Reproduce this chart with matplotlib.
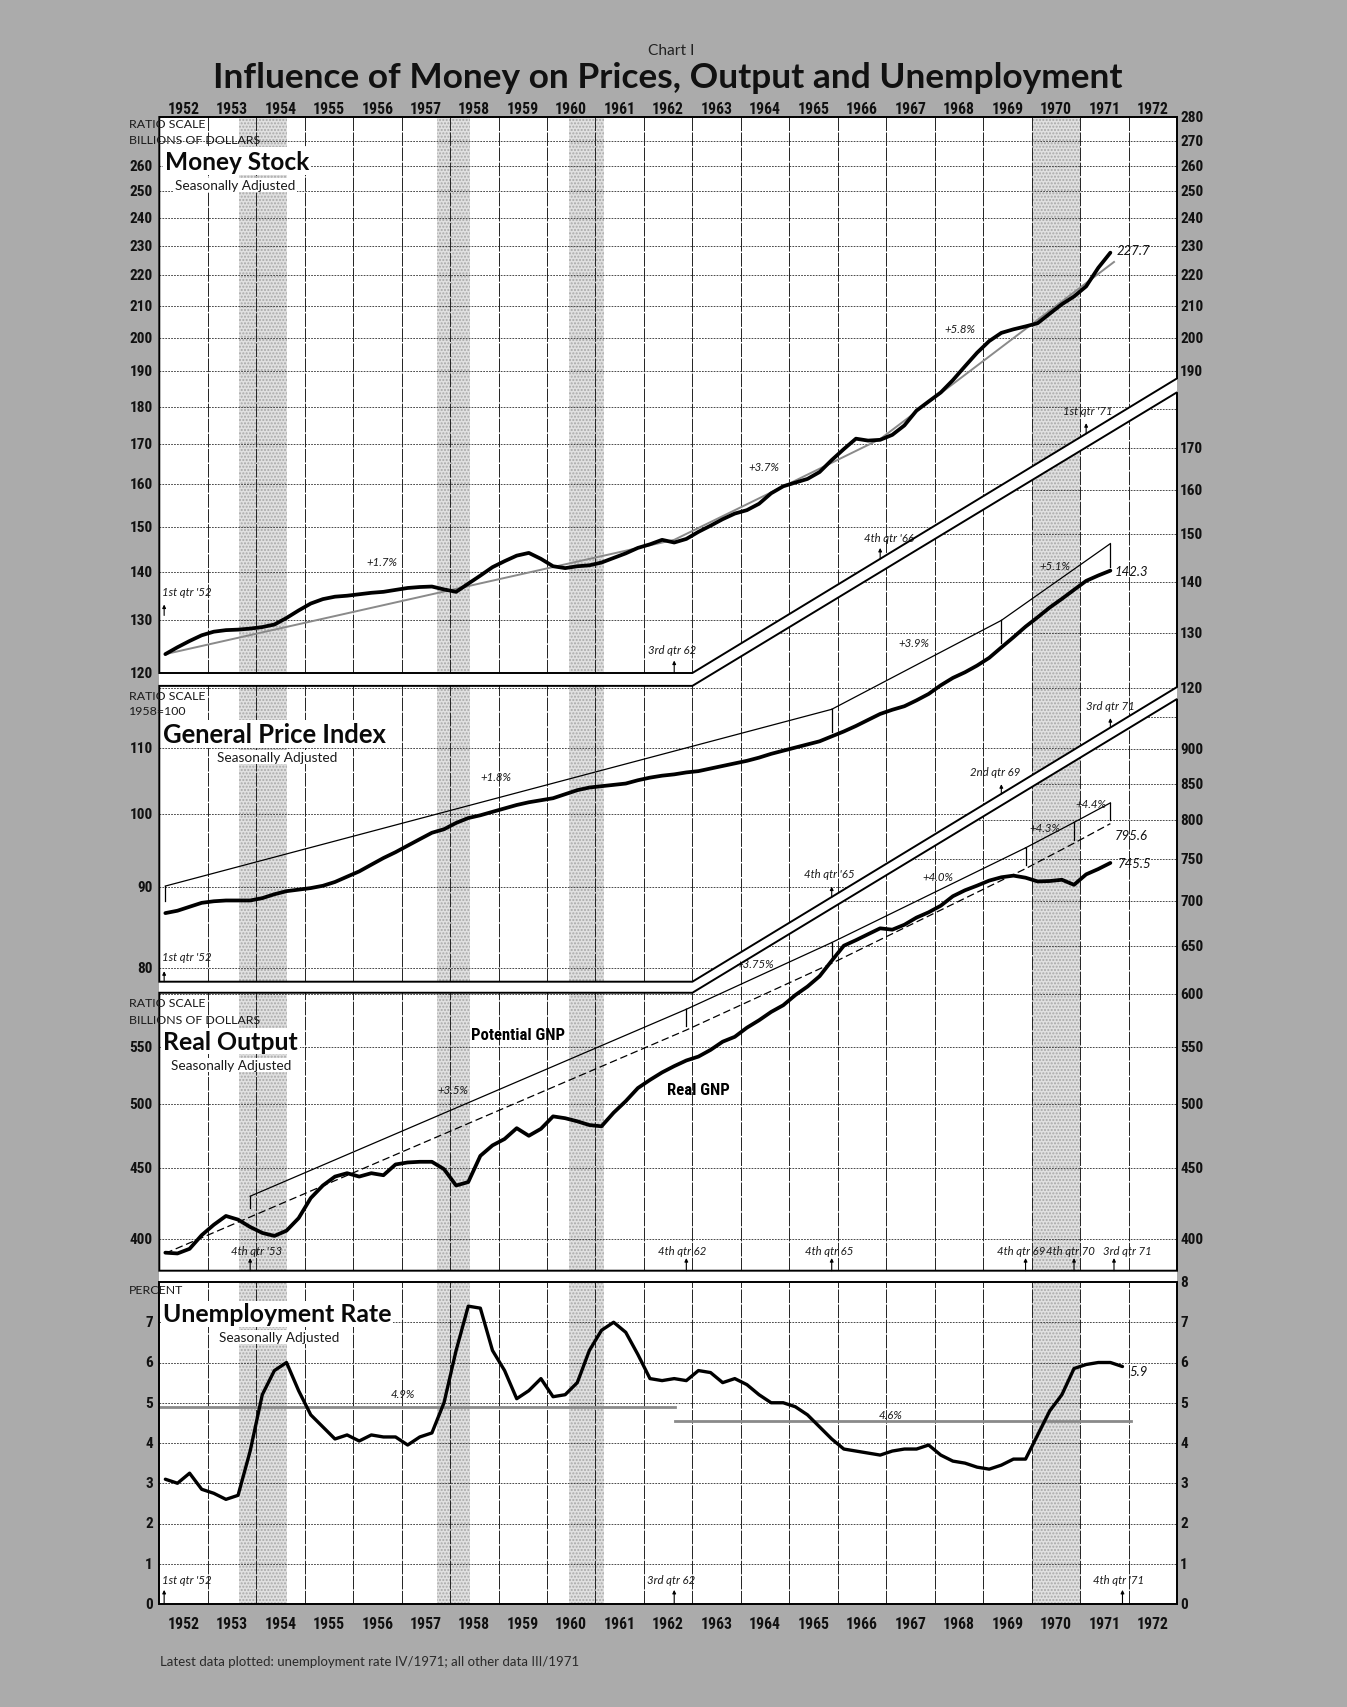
import os

import matplotlib
matplotlib.use('Agg')
import matplotlib.pyplot as plt
import numpy as np
from matplotlib import font_manager as fm
from matplotlib.font_manager import FontProperties
from matplotlib.patches import Polygon, Rectangle
from matplotlib.textpath import TextPath

DPI = 100
W, H = 1347, 1708
BG = '#ababab'

# ---------------- data ----------------
# quarterly observations plotted at mid quarter, 1952 Q1 onwards
quarters = np.arange(1952.125, 1972.0, 0.25)
years = list(range(1952, 1973))

money_stock = [
    123.5, 124.8, 126.0, 127.1, 127.8, 128.1, 128.2, 128.4,
    128.7, 129.2, 130.5, 132.0, 133.4, 134.3, 134.8, 135.0,
    135.3, 135.6, 135.8, 136.2, 136.6, 136.8, 136.9, 136.3,
    135.8, 137.5, 139.2, 141.0, 142.3, 143.5, 144.1, 142.8,
    141.2, 140.8, 141.2, 141.4, 142.0, 143.0, 144.0, 145.2,
    146.0, 147.0, 146.4, 147.2, 148.8, 150.2, 151.7, 153.0,
    153.8, 155.3, 157.8, 159.5, 160.4, 161.3, 163.0, 166.0,
    168.8, 171.5, 171.0, 171.2, 172.5, 175.0, 179.0, 181.5,
    184.0, 187.5, 191.5, 195.5, 199.0, 201.5, 202.6, 203.5,
    204.5, 207.5, 210.5, 213.0, 216.3, 222.5, 227.7]

price_index = [
    86.6, 86.9, 87.4, 87.9, 88.1, 88.2, 88.2, 88.2,
    88.5, 89.0, 89.4, 89.6, 89.8, 90.1, 90.6, 91.3,
    92.0, 92.9, 93.8, 94.6, 95.5, 96.4, 97.3, 97.8,
    98.7, 99.4, 99.8, 100.3, 100.8, 101.3, 101.7, 102.0,
    102.3, 102.9, 103.5, 103.9, 104.1, 104.3, 104.5, 105.0,
    105.4, 105.7, 105.9, 106.2, 106.4, 106.8, 107.2, 107.6,
    108.0, 108.5, 109.1, 109.6, 110.1, 110.6, 111.1, 111.9,
    112.7, 113.6, 114.6, 115.6, 116.3, 116.9, 117.9, 119.0,
    120.5, 121.8, 122.8, 124.0, 125.4, 127.3, 129.2, 131.2,
    133.0, 134.9, 136.6, 138.4, 140.2, 141.3, 142.3]

real_gnp = [
    391.0, 390.5, 393.5, 402.5, 409.5, 415.5, 413.0, 408.0,
    404.0, 402.0, 405.5, 414.0, 428.0, 437.0, 443.5, 446.0,
    443.5, 446.0, 444.5, 452.5, 454.0, 454.5, 454.5, 449.0,
    437.0, 439.5, 459.0, 467.0, 472.0, 480.5, 474.5, 480.0,
    490.0, 488.5, 486.0, 483.0, 482.0, 493.0, 502.5, 513.5,
    520.5, 527.0, 532.5, 537.5, 541.0, 547.0, 554.5, 559.0,
    567.5, 574.5, 582.5, 589.0, 599.0, 607.5, 618.0, 634.0,
    650.0, 656.0, 662.5, 669.0, 667.5, 673.0, 681.0, 687.0,
    694.5, 705.5, 712.5, 718.0, 724.0, 728.0, 730.0, 727.5,
    723.0, 723.5, 725.0, 719.0, 731.5, 738.0, 745.5]

unemployment = [
    3.1, 3.0, 3.25, 2.85, 2.75, 2.6, 2.7, 3.8,
    5.2, 5.8, 6.0, 5.3, 4.7, 4.4, 4.1, 4.2,
    4.05, 4.2, 4.15, 4.15, 3.95, 4.15, 4.25, 5.0,
    6.3, 7.4, 7.35, 6.3, 5.8, 5.1, 5.3, 5.6,
    5.15, 5.2, 5.5, 6.3, 6.8, 7.0, 6.75, 6.2,
    5.6, 5.55, 5.6, 5.55, 5.8, 5.75, 5.5, 5.6,
    5.45, 5.2, 5.0, 5.0, 4.9, 4.7, 4.4, 4.1,
    3.85, 3.8, 3.75, 3.7, 3.8, 3.85, 3.85, 3.95,
    3.7, 3.55, 3.5, 3.4, 3.35, 3.45, 3.6, 3.6,
    4.2, 4.8, 5.2, 5.85, 5.95, 6.0, 6.0, 5.9]

# trend lines
money_trend_years = [1952.125, 1962.625, 1966.875, 1971.7]
money_trend = [123.5, 147.0, 171.4, 224.5]
money_growth = [('+1.7%', 1956.6, 142.3), ('+3.7%', 1964.47, 164.5), ('+5.8%', 1968.52, 203.0)]

price_trend_years = [1952.125, 1965.875, 1969.375, 1971.625]
price_trend = [86.6, 111.9, 127.3, 142.3]
price_growth = [('+1.8%', 1958.95, 105.5), ('+3.9%', 1967.57, 128.2), ('+5.1%', 1970.48, 143.3)]

potential_years = [1952.125, 1953.875, 1962.875, 1965.875, 1969.875, 1970.875, 1971.625]
potential_gnp = [390.6, 414.8, 565.3, 631.3, 738.5, 770.3, 795.6]
output_growth = [('+3.5%', 1958.05, 512.2), ('+3.75%', 1964.29, 631.6), ('+4.0%', 1968.07, 728.6),
                 ('+4.3%', 1970.28, 790.3), ('+4.4%', 1971.22, 822.0)]

unemp_avg_spans = [(1952.0, 1962.65), (1962.65, 1972.05)]
unemp_avg = [4.9, 4.55]
unemp_avg_labels = [('4.9%', 1957.03, 5.24), ('4.6%', 1967.09, 4.72)]

recessions = [(1953.65, 1954.63), (1957.72, 1958.41), (1960.45, 1961.18), (1970.0, 1971.0)]

# panel outlines (the broken double-line frame)
bound_years = [1952, 1963, 1973]
money_floor, money_ceil = [120, 120, 188.0], [280, 280, 280]
price_floor, price_ceil = [78.4, 78.4, 120.2], [120.4, 120.4, 184.3]
output_floor, output_ceil = [379.5, 379.5, 379.5], [601.3, 601.3, 978.0]
unemp_floor, unemp_ceil = [0, 0, 0], [8, 8, 8]

# quarter markers: (text, x, y, ha) and arrows (x, base, tip)
money_notes = [("1st qtr '52", 1952.05, 135.8, 'left'), ('3rd qtr 62', 1962.58, 124.3, 'center'),
               ("4th qtr '66", 1967.06, 147.6, 'center'), ("1st qtr '71", 1971.15, 178.9, 'center')]
money_arrows = [(1952.1, 131.0, 133.2), (1962.625, 120.0, 122.3), (1966.875, 142.8, 145.2),
                (1971.125, 172.8, 175.6)]
price_notes = [("1st qtr '52", 1952.06, 81.3, 'left'), ("4th qtr '65", 1965.82, 91.7, 'center'),
               ('2nd qtr 69', 1969.25, 106.4, 'center'), ('3rd qtr 71', 1971.62, 117.0, 'center')]
price_arrows = [(1952.1, 78.4, 79.6), (1965.875, 88.6, 90.0), (1969.375, 102.9, 104.4),
                (1971.625, 113.4, 114.9)]
output_notes = [("4th qtr '53", 1954.0, 392.1, 'center'), ('4th qtr 62', 1962.79, 392.1, 'center'),
                ('4th qtr 65', 1965.82, 392.1, 'center'), ('4th qtr 69', 1969.78, 392.1, 'center'),
                ('4th qtr 70', 1970.81, 392.1, 'center'), ('3rd qtr 71', 1971.97, 392.1, 'center')]
output_arrows = [(x, 379.5, 387.5) for x in [1953.875, 1962.875, 1965.875, 1969.875, 1970.875, 1971.7]]
unemp_notes = [("1st qtr '52", 1952.06, 0.6, 'left'), ('3rd qtr 62', 1962.56, 0.6, 'center'),
               ("4th qtr '71", 1971.79, 0.6, 'center')]
unemp_arrows = [(1952.1, 0.0, 0.35), (1962.625, 0.0, 0.35), (1971.875, 0.0, 0.35)]

end_labels = {'money': ('227.7', 1971.75, 228.5), 'price': ('142.3', 1971.72, 142.3),
              'potential': ('795.6', 1971.72, 781.0), 'real': ('745.5', 1971.78, 745.5),
              'unemp': ('5.9', 1972.02, 5.8)}

money_left, money_right = list(range(120, 261, 10)), list(range(190, 281, 10))
price_left, price_right = [80, 90, 100, 110], list(range(120, 171, 10))
output_left, output_right = [400, 450, 500, 550], list(range(400, 901, 50))
unemp_left, unemp_right = list(range(0, 8)), list(range(0, 9))


# ---------------- fonts ----------------
def narrow_bold():
    prefs = [('noto', 'extracondensed'), ('roboto', 'condensed'), ('noto', 'condensed'),
             ('liberation', 'narrow'), ('dejavu', 'condensed'), ('open', 'condensed')]
    cands = []
    for f in fm.fontManager.ttflist:
        key = (f.name + ' ' + os.path.basename(f.fname)).lower().replace(' ', '')
        if 'italic' in key or 'oblique' in key:
            continue
        wt = f.weight if isinstance(f.weight, int) else fm.weight_dict.get(f.weight, 400)
        if wt < 600 or wt > 800:
            continue
        if 'condensed' in key or 'narrow' in key:
            cands.append((key, f.fname))
    for a, b in prefs:
        for key, fname in cands:
            if a in key and b in key:
                return FontProperties(fname=fname)
    if cands:
        return FontProperties(fname=cands[0][1])
    return FontProperties(family='DejaVu Sans', weight='bold')


NUM = narrow_bold()
TITLE = FontProperties(family='Lato', weight='bold')
PLAIN = FontProperties(family='Lato')
ITAL = FontProperties(family='Lato', style='italic')


def fit_size(text, prop, width_px):
    w = TextPath((0, 0), text, size=10, prop=prop).get_extents().width
    return 10 * width_px / w * 72 / DPI


def sized(prop, size):
    p = prop.copy()
    p.set_size(size)
    return p


num_fp = sized(NUM, fit_size('260', NUM, 22))
year_fp = sized(NUM, fit_size('1952', NUM, 30))
note_fp = sized(ITAL, fit_size("1st qtr '52", ITAL, 48))
end_fp = sized(ITAL, fit_size('227.7', ITAL, 33))
small_fp = sized(PLAIN, fit_size('RATIO SCALE', PLAIN, 75))
sub_fp = sized(PLAIN, fit_size('Seasonally Adjusted', PLAIN, 118))

# ---------------- figure ----------------
X0, X1 = 159.3, 1177.0
fig = plt.figure(figsize=(W / DPI, H / DPI), dpi=DPI, facecolor=BG)
fig.patches.append(Rectangle((X0 / W, 1 - 1605 / H), (X1 - X0) / W, (1605 - 118) / H,
                             transform=fig.transFigure, facecolor='white',
                             edgecolor='none', zorder=-1))


def ftext(x, y, s, **kw):
    return fig.text(x / W, 1 - y / H, s, **kw)


def panel(top, bottom, ylim, log, floor, ceil, hgrid):
    ax = fig.add_axes([X0 / W, 1 - bottom / H, (X1 - X0) / W, (bottom - top) / H])
    ax.set_facecolor('none')
    ax.axis('off')
    if log:
        ax.set_yscale('log')
    verts = list(zip(bound_years, floor)) + list(zip(bound_years[::-1], ceil[::-1]))
    region = Polygon(verts, closed=True, facecolor='none', edgecolor='black', lw=1.4, zorder=5)
    ax.add_patch(region)
    region.set_clip_on(False)
    ax.set_xlim(1952, 1973)
    ax.set_ylim(*ylim)
    for a, b in recessions:
        span = ax.axvspan(a, b, facecolor='#e0e0e0', edgecolor='#a8a8a8', hatch='.....',
                          lw=0, zorder=0.5)
        span.set_clip_path(region)
    hl = ax.hlines(hgrid, 1952, 1973, colors='#4a4a4a', lw=0.7, linestyles=(0, (1.8, 1.2)), zorder=1)
    hl.set_clip_path(region)
    vl = ax.vlines(years[1:], ylim[0], ylim[1], colors='#222222', lw=0.7,
                   linestyles=(0, (14, 1.5)), zorder=1)
    vl.set_clip_path(region)
    return ax


def tick_labels(ax, left, right, fmt='{:d}'):
    tr = ax.get_yaxis_transform()
    for v in left:
        ax.text(-0.0062, v, fmt.format(v), transform=tr, ha='right', va='center',
                fontproperties=num_fp, color='#111111')
    for v in right:
        ax.text(1.003, v, fmt.format(v), transform=tr, ha='left', va='center',
                fontproperties=num_fp, color='#111111')


def notes(ax, items, arrows):
    for s, x, y, ha in items:
        ax.text(x, y, s, ha=ha, va='center', fontproperties=note_fp, color='#1a1a1a', zorder=4)
    for x, base, tip in arrows:
        ax.annotate('', xy=(x, tip), xytext=(x, base),
                    arrowprops=dict(arrowstyle='-|>', color='black', lw=0.8,
                                    mutation_scale=5, shrinkA=0, shrinkB=0), zorder=4)


def bracket(ax, xs, vs, lift):
    ax.plot([xs[0], xs[0]], [vs[0] * lift, vs[0] * (1 + (lift - 1) * 0.45)], color='black', lw=0.9, zorder=2)
    for i in range(len(xs) - 1):
        ax.plot([xs[i], xs[i + 1]], [vs[i] * lift, vs[i + 1] * lift], color='black', lw=0.9, zorder=2)
        ax.plot([xs[i + 1], xs[i + 1]], [vs[i + 1] * lift, vs[i + 1] * 1.006], color='black', lw=0.9, zorder=2)


def growth(ax, items):
    for s, x, y in items:
        ax.text(x, y, s, ha='center', va='center', fontproperties=note_fp, color='#1a1a1a', zorder=4)


def end_label(ax, key):
    s, x, y = end_labels[key]
    ax.text(x, y, s, ha='left', va='center', fontproperties=end_fp, color='#111111', zorder=4)


thick = dict(color='black', lw=2.7, solid_joinstyle='round', solid_capstyle='round', zorder=3)

# --- money stock ---
ax_m = panel(118, 674, (120, 280), True, money_floor, money_ceil, list(range(120, 281, 10)))
ax_m.plot(money_trend_years, money_trend, color='#8a8a8a', lw=1.4, zorder=2)
ax_m.plot(quarters[:len(money_stock)], money_stock, **thick)
tick_labels(ax_m, money_left, money_right)
growth(ax_m, money_growth)
notes(ax_m, money_notes, money_arrows)
end_label(ax_m, 'money')

# --- general price index ---
ax_p = panel(393.3, 982.7, (78.4, 184.3), True, price_floor, price_ceil, list(range(80, 181, 10)))
bracket(ax_p, price_trend_years, price_trend, 1.04)
ax_p.plot(quarters[:len(price_index)], price_index, **thick)
tick_labels(ax_p, price_left, price_right)
growth(ax_p, price_growth)
notes(ax_p, price_notes, price_arrows)
end_label(ax_p, 'price')

# --- real output ---
ax_o = panel(700, 1271.7, (379.5, 978.0), True, output_floor, output_ceil, list(range(400, 951, 50)))
ax_o.plot(potential_years, potential_gnp, color='black', lw=0.9, dashes=(6, 3), zorder=2)
bracket(ax_o, potential_years[1:], potential_gnp[1:], 1.035)
ax_o.plot(quarters[:len(real_gnp)], real_gnp, **thick)
tick_labels(ax_o, output_left, output_right)
growth(ax_o, output_growth)
notes(ax_o, output_notes, output_arrows)
end_label(ax_o, 'potential')
end_label(ax_o, 'real')
lab_fp = sized(NUM, fit_size('Potential GNP', NUM, 92))
ax_o.text(1959.4, 560.9, 'Potential GNP', ha='center', va='center', fontproperties=lab_fp, zorder=4)
ax_o.text(1963.12, 511.9, 'Real GNP', ha='center', va='center', fontproperties=lab_fp, zorder=4)

# --- unemployment ---
ax_u = panel(1283, 1605, (0, 8), False, unemp_floor, unemp_ceil, list(range(1, 8)))
for (a, b), v in zip(unemp_avg_spans, unemp_avg):
    ax_u.plot([a, b], [v, v], color='#8a8a8a', lw=2.0, zorder=2)
ax_u.plot(quarters[:len(unemployment)], unemployment, **dict(thick, lw=2.4))
tick_labels(ax_u, unemp_left, unemp_right)
growth(ax_u, unemp_avg_labels)
notes(ax_u, unemp_notes, unemp_arrows)
end_label(ax_u, 'unemp')

# year labels, top and bottom
for y in years:
    ax_m.annotate(str(y), xy=(y + 0.5, 1), xycoords=ax_m.get_xaxis_transform(),
                  xytext=(0, 5.8), textcoords='offset points', ha='center', va='center',
                  fontproperties=year_fp, color='#111111')
    ax_u.annotate(str(y), xy=(y + 0.5, 0), xycoords=ax_u.get_xaxis_transform(),
                  xytext=(0, -14.4), textcoords='offset points', ha='center', va='center',
                  fontproperties=year_fp, color='#111111')

# ---------------- titles and captions ----------------
title = 'Influence of Money on Prices, Output and Unemployment'
ftext(668, 78, title, ha='center', va='center', color='#111111',
      fontproperties=sized(TITLE, fit_size(title, TITLE, 906)))
ftext(671, 51, 'Chart I', ha='center', va='center', color='#222222',
      fontproperties=sized(PLAIN, fit_size('Chart I', PLAIN, 44)))

box = dict(facecolor='white', edgecolor='none', pad=1.5)
for s, x, y, w in [('Money Stock', 165, 162, 142), ('General Price Index', 163, 735, 222),
                   ('Real Output', 163, 1042, 133), ('Unemployment Rate', 163, 1315, 227)]:
    ftext(x, y, s, ha='left', va='center', color='#0a0a0a', bbox=box,
          fontproperties=sized(TITLE, fit_size(s, TITLE, w)))
for x, y in [(175, 186), (217, 758), (171, 1066), (219, 1338)]:
    ftext(x, y, 'Seasonally Adjusted', ha='left', va='center', color='#1a1a1a',
          fontproperties=sub_fp, bbox=dict(facecolor='white', edgecolor='none', pad=1))

for s, y in [('RATIO SCALE', 125), ('BILLIONS OF DOLLARS', 141), ('RATIO SCALE', 697),
             ('1958=100', 712), ('RATIO SCALE', 1004), ('BILLIONS OF DOLLARS', 1021),
             ('PERCENT', 1291)]:
    ftext(129, y, s, ha='left', va='center', color='#1a1a1a', fontproperties=small_fp)

foot = 'Latest data plotted: unemployment rate IV/1971; all other data III/1971'
ftext(160, 1662, foot, ha='left', va='center', color='#2a2a2a',
      fontproperties=sized(PLAIN, fit_size(foot, PLAIN, 417)))

fig.savefig('out.png', dpi=DPI, facecolor=BG)
